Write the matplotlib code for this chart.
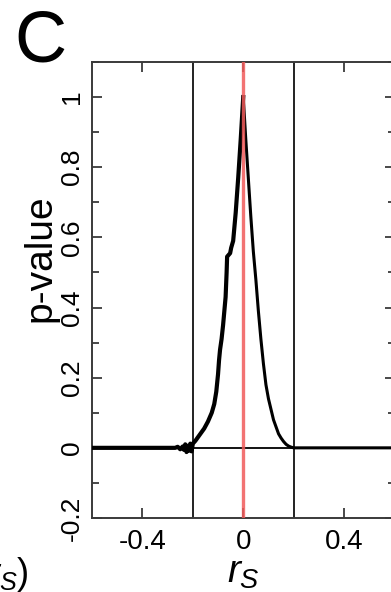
import matplotlib
matplotlib.use("Agg")
import matplotlib.pyplot as plt
from matplotlib.ticker import MultipleLocator, FixedLocator

plt.rcParams['font.family'] = ['Liberation Sans', 'DejaVu Sans']
plt.rcParams['mathtext.fontset'] = 'custom'
plt.rcParams['mathtext.it'] = 'Liberation Sans:italic'
plt.rcParams['mathtext.rm'] = 'Liberation Sans'

# ---- data ----
# right branch of the p-value curve (r_S >= 0)
r_right = [0.0, 0.01, 0.02, 0.03, 0.04, 0.05, 0.06, 0.07, 0.08, 0.09, 0.10,
           0.11, 0.12, 0.13, 0.14, 0.15, 0.16, 0.17, 0.18, 0.19, 0.20, 0.6]
p_right = [1.0, 0.88, 0.77, 0.66, 0.56, 0.48, 0.39, 0.31, 0.24, 0.18, 0.14,
           0.11, 0.08, 0.06, 0.04, 0.028, 0.018, 0.01, 0.005, 0.002, 0.0, 0.0]
# left branch (r_S <= 0), noisy near zero
r_left = [0.0, -0.01, -0.02, -0.03, -0.04, -0.048, -0.052, -0.058, -0.064, -0.066,
          -0.07, -0.075, -0.08, -0.086, -0.092, -0.096, -0.10, -0.107, -0.115,
          -0.125, -0.14, -0.155, -0.17, -0.18, -0.19, -0.20, -0.205, -0.21,
          -0.215, -0.22, -0.225, -0.23, -0.235, -0.24, -0.25, -0.26, -0.27, -0.6]
p_left = [1.0, 0.88, 0.77, 0.67, 0.59, 0.57, 0.555, 0.55, 0.545, 0.50,
          0.43, 0.39, 0.35, 0.31, 0.28, 0.25, 0.21, 0.16, 0.125,
          0.10, 0.075, 0.055, 0.04, 0.03, 0.02, 0.012, -0.01, 0.012,
          -0.008, 0.006, -0.012, 0.01, -0.006, 0.004, -0.004, 0.003, 0.0, 0.0]

ref_lines = [-0.2, 0.2]
null_line = 0.0
x_ticks = [-0.4, 0, 0.4]
x_ticklabels = ['-0.4', '0', '0.4']
y_ticks = [-0.2, 0, 0.2, 0.4, 0.6, 0.8, 1.0]
y_ticklabels = ['-0.2', '0', '0.2', '0.4', '0.6', '0.8', '1']

W, H = 391, 592
fig = plt.figure(figsize=(W / 100, H / 100), dpi=100)
ax = fig.add_axes([92 / W, 1 - 518 / H, (394.5 - 92) / W, (518 - 62) / H])

spine_col = '#3a3a3a'
ax.axhline(0, color='black', lw=1.3, zorder=2)
for xv in ref_lines:
    ax.axvline(xv, color='#222222', lw=1.4, zorder=2)
ax.plot(r_left, p_left, color='black', lw=3.0, zorder=3)
ax.plot(r_right, p_right, color='black', lw=2.2, zorder=3)
ax.axvline(null_line, color='#f05a5a', lw=2.4, alpha=0.85, zorder=4)

ax.set_xlim(-0.6, 0.6)
ax.set_ylim(-0.2, 1.1)
ax.xaxis.set_major_locator(FixedLocator(x_ticks))
ax.set_xticklabels(x_ticklabels)
ax.yaxis.set_major_locator(FixedLocator(y_ticks))
ax.set_yticklabels(y_ticklabels, rotation=90, va='center')
ax.yaxis.set_minor_locator(MultipleLocator(0.1))
ax.tick_params(axis='both', which='both', direction='in', top=True, right=True,
               color=spine_col, width=1.3)
ax.tick_params(axis='x', which='major', length=7, labelsize=20, pad=8)
ax.tick_params(axis='y', which='major', length=7, labelsize=19, pad=6)
ax.tick_params(axis='y', which='minor', length=5)
for s in ax.spines.values():
    s.set_color(spine_col)
    s.set_linewidth(1.4)

ax.set_ylabel('p-value', fontsize=28)
ax.yaxis.set_label_coords((58 - 92) / 302.5, 0.57)
ax.set_xlabel('$r_S$', fontsize=28, labelpad=0)

fig.text(14 / W, 1 - 62 / H, 'C', fontsize=52, ha='left', va='baseline')
fig.text(29 / W, 1 - 584 / H, '$r_S$)', fontsize=26, ha='right', va='baseline')

fig.savefig('out.png', dpi=100)
